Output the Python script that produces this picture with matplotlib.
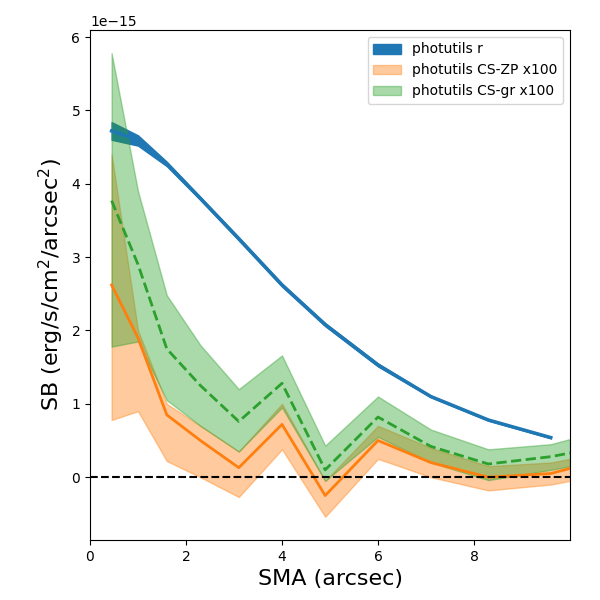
import matplotlib
matplotlib.use("Agg")
import matplotlib.pyplot as plt
import numpy as np

sma = [0.45, 1.0, 1.6, 2.3, 3.1, 4.0, 4.9, 6.0, 7.1, 8.3, 9.6, 10.0]
r_sma = sma[:11]
r_mid = [4.72, 4.6, 4.27, 3.8, 3.25, 2.62, 2.08, 1.53, 1.1, 0.78, 0.54]
r_lo = [4.6, 4.52, 4.24, 3.78, 3.23, 2.6, 2.06, 1.51, 1.09, 0.77, 0.53]
r_hi = [4.84, 4.66, 4.3, 3.82, 3.27, 2.64, 2.1, 1.55, 1.11, 0.79, 0.55]
zp_mid = [2.62, 1.9, 0.85, 0.5, 0.13, 0.72, -0.25, 0.5, 0.2, 0.0, 0.05, 0.12]
zp_lo = [0.78, 0.9, 0.22, 0.0, -0.27, 0.38, -0.54, 0.25, 0.0, -0.18, -0.1, -0.05]
zp_hi = [4.4, 2.0, 1.0, 0.7, 0.35, 1.0, -0.05, 0.7, 0.4, 0.15, 0.2, 0.25]
gr_mid = [3.77, 2.9, 1.75, 1.25, 0.76, 1.28, 0.1, 0.82, 0.42, 0.18, 0.28, 0.33]
gr_lo = [1.78, 1.85, 1.05, 0.7, 0.35, 0.95, -0.05, 0.55, 0.2, -0.04, 0.1, 0.15]
gr_hi = [5.78, 3.9, 2.48, 1.8, 1.2, 1.66, 0.43, 1.1, 0.65, 0.38, 0.45, 0.52]

s = 1e-15
f = lambda a: np.array(a) * s

fig, ax = plt.subplots(figsize=(6, 6), dpi=100)
ax.fill_between(r_sma, f(r_lo), f(r_hi), color='C0', label='photutils r')
ax.plot(r_sma, f(r_mid), color='C0', lw=2.5)
ax.fill_between(sma, f(zp_lo), f(zp_hi), color='C1', alpha=0.4, label='photutils CS-ZP x100')
ax.plot(sma, f(zp_mid), color='C1', lw=2)
ax.fill_between(sma, f(gr_lo), f(gr_hi), color='C2', alpha=0.4, label='photutils CS-gr x100')
ax.plot(sma, f(gr_mid), color='C2', lw=2, ls='--')
ax.axhline(0, color='k', ls='--')
ax.set_xlim(0, 10)
ax.set_xticks([0, 2, 4, 6, 8])
ax.set_xlabel('SMA (arcsec)', fontsize=16)
ax.set_ylabel('SB (erg/s/cm$^2$/arcsec$^2$)', fontsize=16)
ax.legend(loc='upper right')
fig.subplots_adjust(left=0.15, right=0.95, top=0.95, bottom=0.1)
fig.savefig('out.png')
